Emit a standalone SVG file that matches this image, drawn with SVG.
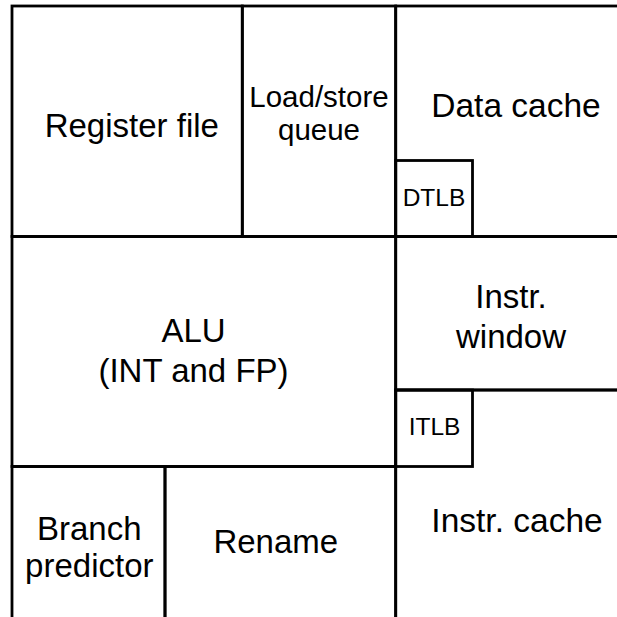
<svg xmlns="http://www.w3.org/2000/svg" width="617" height="617" viewBox="0 0 617 617">
<style>
  .box { fill: none; stroke: #000; stroke-width: 2.8; }
  .lbl { font-family: "Liberation Sans", Arial, sans-serif; font-size: 33px; fill: #000; text-anchor: middle; }
  .mid { font-size: 29.5px; }
  .sm { font-size: 24.5px; }
</style>
<rect x="0" y="0" width="617" height="617" fill="#fff"/>
<g id="register-file">
  <rect class="box" x="12" y="6" width="230.3" height="230.5"/>
  <text class="lbl" x="131.8" y="136.7">Register file</text>
</g>
<g id="load-store-queue">
  <rect class="box" x="242.3" y="6" width="153.4" height="230.5"/>
  <text class="lbl mid" x="319" y="107.3">Load/store</text>
  <text class="lbl mid" x="319" y="140">queue</text>
</g>
<g id="data-cache">
  <rect class="box" x="395.7" y="6" width="250" height="230.5"/>
  <text class="lbl" x="516" y="117.3" style="font-size:33.5px">Data cache</text>
</g>
<g id="dtlb">
  <rect class="box" x="395.7" y="160.5" width="76.8" height="76"/>
  <text class="lbl sm" x="434" y="205.5">DTLB</text>
</g>
<g id="alu">
  <rect class="box" x="12" y="236.5" width="383.7" height="230"/>
  <text class="lbl" x="193.5" y="341.7">ALU</text>
  <text class="lbl" x="193.5" y="381.7">(INT and FP)</text>
</g>
<g id="instr-window">
  <rect class="box" x="395.7" y="236.5" width="250" height="153.5"/>
  <text class="lbl" x="511" y="308.3">Instr.</text>
  <text class="lbl" x="511" y="348.3">window</text>
</g>
<g id="instr-cache">
  <rect class="box" x="395.7" y="390" width="250" height="250"/>
  <text class="lbl" x="517" y="531.5" style="font-size:33.5px">Instr. cache</text>
</g>
<g id="itlb">
  <rect class="box" x="395.7" y="390" width="76.8" height="76.5"/>
  <text class="lbl sm" x="434.5" y="435">ITLB</text>
</g>
<g id="branch-predictor">
  <rect class="box" x="12" y="466.5" width="153" height="173.5"/>
  <text class="lbl" x="89.3" y="540">Branch</text>
  <text class="lbl" x="89.3" y="576.7">predictor</text>
</g>
<g id="rename">
  <rect class="box" x="165" y="466.5" width="230.7" height="173.5"/>
  <text class="lbl" x="275.8" y="553.3">Rename</text>
</g>
<g id="connectors"></g>
</svg>
